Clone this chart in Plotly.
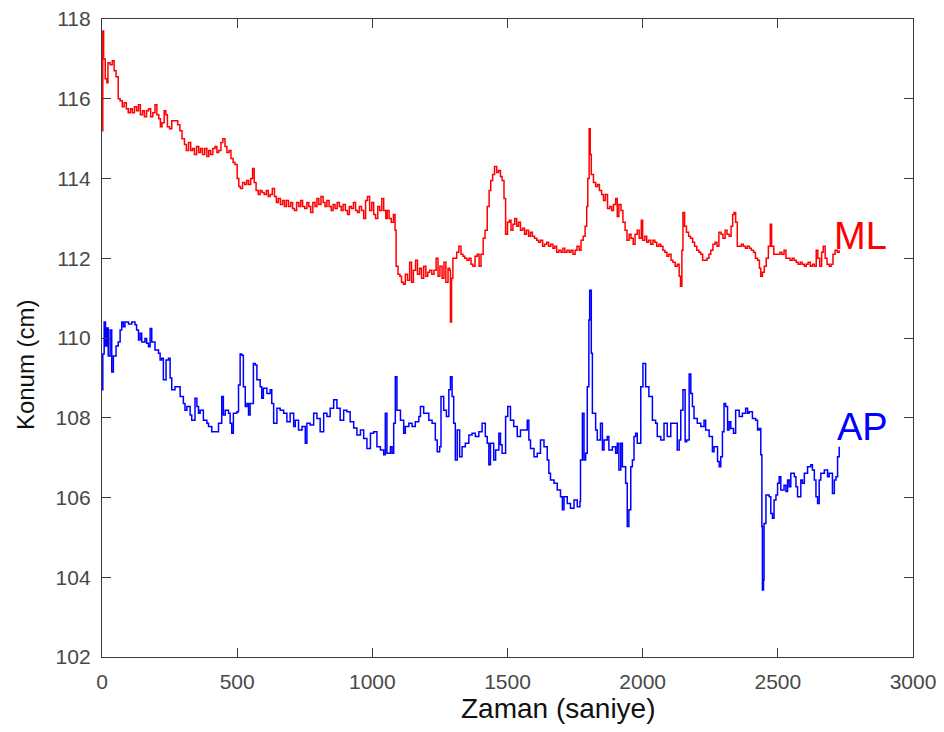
import plotly.graph_objects as go

# ---- data ----
ml_t = [0,3,6,12,18,22,30,38,45,52,60,67,75,82,90,97,105,112,120,128,135,142,150,157,165,172,180,188,196,203,
        210,216,222,230,236,242,250,258,265,272,280,288,296,305,312,320,328,335,342,350,358,365,372,380,388,395,
        402,410,418,425,432,440,447,455,462,470,477,485,492,500,506,512,520,528,535,542,550,557,563,570,578,585,
        592,600,608,615,622,630,638,645,652,660,668,675,682,690,698,705,712,720,728,735,742,750,758,765,772,780,
        788,795,802,810,818,825,832,840,848,855,862,870,878,885,892,900,908,915,922,930,938,945,952,960,968,975,
        982,990,998,1005,1012,1020,1027,1035,1042,1050,1055,1062,1070,1078,1084,1088,1095,1102,1108,1115,1122,
        1130,1138,1145,1152,1160,1167,1175,1182,1190,1198,1205,1212,1220,1228,1236,1243,1250,1258,1265,1272,
        1280,1286,1289,1293,1298,1305,1312,1320,1328,1335,1342,1350,1358,1365,1372,1380,1388,1395,1402,1410,
        1417,1425,1432,1438,1445,1452,1460,1467,1474,1480,1487,1493,1500,1507,1513,1520,1527,1534,1541,1548,
        1556,1563,1570,1578,1585,1592,1600,1608,1615,1622,1630,1637,1645,1652,1660,1668,1675,1682,1690,1698,
        1705,1712,1720,1728,1735,1742,1750,1757,1765,1772,1780,1787,1793,1797,1802,1806,1810,1818,1826,1833,
        1840,1848,1855,1862,1870,1878,1885,1892,1900,1906,1912,1920,1927,1935,1942,1950,1957,1965,1972,1980,
        1987,1995,2000,2008,2015,2022,2030,2038,2045,2052,2060,2067,2075,2082,2090,2097,2105,2112,2120,2128,
        2135,2140,2145,2149,2155,2162,2170,2177,2185,2192,2200,2208,2215,2222,2230,2238,2245,2252,2260,2268,
        2275,2282,2290,2297,2305,2312,2320,2327,2333,2338,2344,2350,2357,2365,2372,2380,2387,2395,2402,2410,
        2417,2425,2432,2437,2443,2450,2457,2465,2472,2477,2485,2492,2500,2508,2515,2523,2530,2538,2545,2553,
        2560,2568,2575,2583,2590,2598,2605,2612,2620,2628,2635,2642,2648,2655,2662,2668,2675,2682,2690,2697,
        2704,2712,2720,2727]
ml_cm = [115.2,117.7,117.0,116.5,116.4,116.9,116.85,116.95,116.7,116.55,116.0,115.95,115.8,115.9,115.75,115.65,
         115.75,115.65,115.8,115.7,115.85,115.6,115.7,115.55,115.7,115.75,115.55,115.65,115.85,115.6,115.5,115.3,
         115.4,115.7,115.6,115.3,115.25,115.45,115.45,115.45,115.35,115.2,115.0,114.85,114.7,114.9,114.7,114.75,
         114.6,114.8,114.65,114.75,114.6,114.75,114.55,114.7,114.6,114.75,114.8,114.65,114.7,114.9,115.0,114.8,
         114.65,114.7,114.5,114.4,114.35,114.0,113.8,113.75,113.9,113.85,113.95,113.85,114.0,114.25,113.9,113.7,
         113.6,113.7,113.65,113.6,113.7,113.55,113.6,113.75,113.55,113.4,113.5,113.35,113.45,113.3,113.45,113.3,
         113.4,113.25,113.2,113.4,113.3,113.45,113.3,113.25,113.4,113.3,113.15,113.4,113.3,113.5,113.35,113.55,
         113.4,113.3,113.45,113.3,113.2,113.35,113.25,113.4,113.3,113.2,113.35,113.2,113.1,113.3,113.25,113.4,
         113.2,113.15,113.3,113.2,113.0,113.45,113.55,113.2,113.4,113.1,113.0,113.3,113.2,113.5,113.2,113.0,
         113.2,113.0,112.9,113.1,112.7,111.8,111.6,111.55,111.4,111.35,111.6,111.45,111.9,111.4,111.7,111.95,
         111.6,111.75,111.5,111.8,111.55,111.65,111.7,111.6,111.7,112.0,111.55,111.8,111.5,111.9,111.4,111.75,
         111.7,110.4,111.5,112.0,112.0,112.15,112.3,112.1,112.05,112.0,111.95,112.0,111.85,111.8,112.05,112.1,
         111.8,112.1,112.5,112.7,113.3,113.7,113.95,114.1,114.3,114.15,114.2,114.05,113.95,113.5,112.6,112.9,
         112.95,112.7,112.85,113.0,112.8,112.9,112.7,112.75,112.6,112.7,112.55,112.65,112.55,112.5,112.45,112.4,
         112.45,112.3,112.35,112.4,112.3,112.35,112.25,112.3,112.15,112.2,112.15,112.25,112.15,112.2,112.15,
         112.2,112.1,112.2,112.3,112.2,112.45,112.55,112.8,113.3,114.0,115.25,114.6,114.1,113.9,113.8,113.85,
         113.7,113.6,113.45,113.6,113.25,113.3,113.2,113.35,113.5,113.05,113.35,113.2,112.9,112.7,112.45,112.6,
         112.5,112.35,112.6,112.7,112.5,112.95,112.45,112.55,112.4,112.45,112.35,112.45,112.4,112.3,112.35,112.3,
         112.2,112.15,112.05,112.1,111.95,111.9,111.8,111.85,111.55,111.3,112.2,113.15,112.8,112.65,112.55,112.5,
         112.4,112.3,112.2,112.15,112.1,111.95,111.95,112.0,112.1,112.2,112.35,112.4,112.3,112.65,112.6,112.5,
         112.7,112.6,112.55,112.8,113.1,113.15,112.9,112.3,112.3,112.35,112.3,112.25,112.3,112.25,112.2,112.15,
         112.0,111.95,111.75,111.55,111.65,111.8,112.0,112.3,112.85,112.3,112.1,112.1,112.1,112.15,112.1,112.2,
         112.0,112.0,111.95,112.0,111.95,111.9,111.85,111.9,111.85,111.8,111.85,111.9,111.8,111.85,111.8,112.2,
         112.0,111.8,112.15,112.3,112.0,111.85,111.8,111.85,112.1,112.2,112.15,112.2]

ap_t = [0,3,8,13,18,23,30,36,42,52,60,67,73,79,85,98,110,122,128,135,141,147,159,165,172,178,184,196,209,215,
        221,227,237,246,252,258,270,283,289,301,307,314,326,332,344,351,357,363,375,388,394,406,418,431,443,449,
        456,468,474,480,486,499,505,511,517,523,530,536,542,548,560,567,573,585,591,597,610,622,628,635,647,659,
        672,684,696,709,715,727,740,752,758,770,783,795,807,820,832,844,857,869,881,894,906,918,931,943,956,968,
        980,993,1005,1017,1030,1042,1048,1054,1067,1073,1079,1085,1091,1104,1116,1122,1135,1147,1159,1172,1178,
        1190,1209,1221,1233,1240,1249,1254,1264,1274,1283,1289,1295,1301,1307,1314,1323,1332,1344,1357,1369,
        1381,1394,1406,1418,1425,1431,1437,1449,1456,1468,1474,1480,1493,1501,1511,1523,1536,1548,1560,1573,
        1579,1585,1598,1610,1622,1635,1647,1653,1659,1672,1684,1696,1703,1709,1721,1733,1746,1758,1768,1770,
        1777,1783,1789,1795,1801,1804,1810,1814,1826,1832,1844,1851,1857,1869,1875,1888,1900,1906,1912,1919,
        1925,1937,1943,1949,1956,1962,1968,1974,1980,1986,1993,2001,2011,2023,2036,2048,2054,2067,2079,2091,
        2104,2116,2128,2135,2141,2149,2157,2163,2172,2178,2184,2190,2202,2215,2227,2233,2246,2258,2264,2277,
        2283,2289,2295,2301,2307,2314,2320,2326,2336,2344,2357,2369,2381,2388,2394,2406,2418,2425,2431,2437,
        2441,2443,2447,2449,2456,2468,2474,2480,2486,2493,2499,2505,2511,2523,2530,2536,2542,2548,2561,2567,
        2573,2585,2591,2598,2610,2622,2628,2635,2641,2647,2653,2659,2672,2684,2690,2702,2709,2715,2721,2727]
ap_cm = [108.7,109.6,110.4,109.8,110.25,109.55,110.2,109.15,109.55,109.8,109.9,110.2,110.4,110.28,110.4,110.35,
         110.4,110.33,110.2,109.95,110.12,109.9,109.99,109.87,109.78,110.24,109.9,109.7,109.62,109.45,109.49,108.95,
         109.45,109.49,109.0,108.7,108.78,108.78,108.53,108.36,108.19,108.28,108.07,107.94,108.49,108.28,108.11,
         108.19,107.94,107.86,107.78,107.65,107.65,107.86,108.53,108.07,108.19,108.11,107.86,107.61,108.11,108.15,
         108.82,109.6,109.57,108.78,108.28,108.36,108.07,108.36,109.36,109.32,108.95,108.78,108.49,108.74,108.61,
         108.70,108.36,107.86,108.24,108.19,108.11,107.90,108.11,107.78,107.94,107.69,107.78,107.36,107.86,107.82,
         108.11,107.98,107.65,108.11,108.03,108.24,108.45,108.24,107.94,108.19,108.15,107.90,107.74,107.57,107.69,
         107.48,107.23,107.61,107.65,107.27,107.19,107.07,108.11,107.11,107.27,107.11,107.86,109.03,108.19,107.94,
         107.61,107.78,107.86,107.78,107.90,108.03,108.28,108.11,107.94,107.86,107.44,107.15,107.27,108.53,108.19,
         108.03,108.70,109.03,108.53,107.86,106.94,107.69,107.02,107.27,107.36,107.57,107.61,107.53,107.65,107.86,
         107.53,107.36,106.82,107.36,106.94,107.19,107.61,107.32,107.11,108.03,108.28,107.94,107.78,107.53,107.69,
         107.69,107.94,107.44,107.23,107.02,107.11,107.44,107.27,106.94,106.61,106.44,106.36,106.19,106.02,105.69,
         106.02,105.85,105.73,105.94,105.77,105.90,106.94,108.11,106.94,107.11,108.78,110.45,111.20,109.62,108.11,
         107.69,107.44,107.86,107.19,107.44,107.53,107.19,107.27,107.11,107.36,106.69,107.36,106.77,106.36,105.27,
         105.69,106.77,106.94,107.53,107.61,107.36,107.36,108.78,109.36,108.78,108.53,107.94,107.86,107.53,107.44,
         107.86,107.53,107.86,107.86,107.19,107.44,108.19,108.70,107.40,107.44,109.1,108.61,108.28,107.98,107.86,
         107.78,107.94,107.69,107.53,107.15,107.27,106.90,106.77,107.02,107.65,108.36,108.28,107.69,107.90,107.73,
         107.61,108.19,108.03,108.11,108.24,108.11,108.15,107.98,107.94,107.69,107.73,107.07,105.27,103.68,103.93,
         105.35,106.06,106.02,105.60,105.48,105.94,106.06,106.36,106.52,106.19,106.31,106.15,106.44,106.27,106.61,
         106.52,106.27,106.02,106.44,106.36,106.61,106.77,106.82,106.69,106.44,106.02,105.85,106.44,106.61,106.69,
         106.52,106.61,106.10,106.44,106.52,107.02,107.27]

x_ticks = [0, 500, 1000, 1500, 2000, 2500, 3000]
y_ticks = [102, 104, 106, 108, 110, 112, 114, 116, 118]
x_title = "Zaman (saniye)"
y_title = "Konum (cm)"

FONT = "Liberation Sans, Arial, sans-serif"
AX = "#3a3a3a"

fig = go.Figure()
fig.add_trace(go.Scatter(x=ml_t, y=ml_cm, mode="lines", name="ML",
                         line=dict(color="#ff0000", width=1.5, shape="hv")))
fig.add_trace(go.Scatter(x=ap_t, y=ap_cm, mode="lines", name="AP",
                         line=dict(color="#0000ff", width=1.5, shape="hv")))

axis_common = dict(showgrid=False, zeroline=False, showline=True, linecolor=AX, linewidth=1.3,
                   mirror="ticks", ticks="inside", ticklen=9, tickwidth=1.3, tickcolor=AX,
                   automargin=False, tickfont=dict(family=FONT, size=21, color="#484848"))
fig.update_xaxes(range=[0, 3000], tickvals=x_ticks, ticktext=[str(v) for v in x_ticks],
                 ticklabelstandoff=6, **axis_common)
fig.update_yaxes(range=[102, 118], tickvals=y_ticks, ticktext=[str(v) for v in y_ticks],
                 ticklabelstandoff=6, **axis_common)

fig.add_annotation(text="ML", x=2700, y=112.55, xref="x", yref="y", xanchor="left", yanchor="middle",
                   showarrow=False, font=dict(family=FONT, size=38, color="#ff0000"))
fig.add_annotation(text="AP", x=2712, y=107.77, xref="x", yref="y", xanchor="left", yanchor="middle",
                   showarrow=False, font=dict(family=FONT, size=38, color="#0000ff"))
fig.add_annotation(text=x_title, x=0.5635, y=-0.08, xref="paper", yref="paper", xanchor="center",
                   yanchor="middle", showarrow=False, font=dict(family=FONT, size=28, color="#111111"))
fig.add_annotation(text=y_title, x=-0.095, y=0.459, xref="paper", yref="paper", xanchor="center",
                   yanchor="middle", textangle=-90, showarrow=False,
                   font=dict(family=FONT, size=24, color="#111111"))

fig.update_layout(width=944, height=732, margin=dict(l=102, r=31, t=19, b=75, pad=0),
                  paper_bgcolor="white", plot_bgcolor="white", showlegend=False)
fig.write_html("out.html", config={"displayModeBar": False},
               post_script="document.body.style.margin='0px';document.body.style.overflow='hidden';")
